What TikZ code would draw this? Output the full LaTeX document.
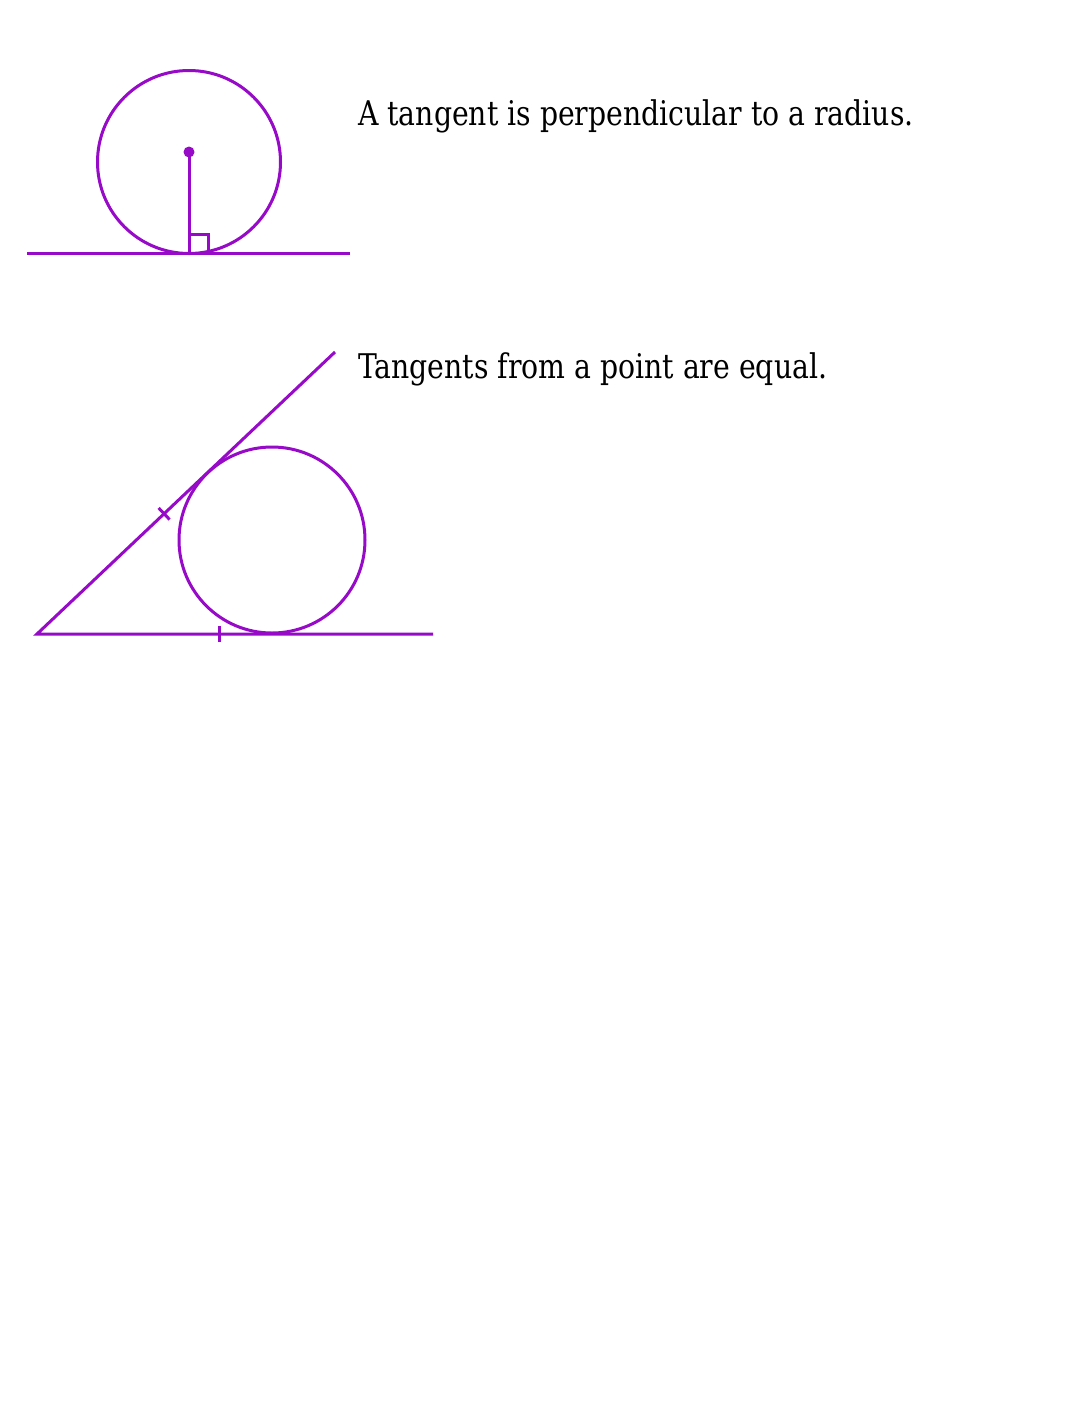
\documentclass[tikz,border=0pt]{standalone}
\usepackage{fontspec}
\setmainfont{DejaVu Serif Condensed}
\usepackage{tikz}
\usetikzlibrary{calc,positioning}
\definecolor{tanpurple}{RGB}{150,10,200}
\tikzset{
    geo/.style={draw=tanpurple, line width=3pt},
    fact/.style={anchor=base west, align=left, font=\fontsize{34}{40}\selectfont, inner sep=0pt, xscale=0.925},
}

\begin{document}
\begin{tikzpicture}[x=1pt,y=1pt,yscale=-1,xscale=1]
\useasboundingbox (0,0) rectangle (1080,1417);
%Points
\coordinate (O1) at (189,162);
\coordinate (C1) at (189,152);
\coordinate (P1) at (189,253);
\coordinate (L1) at (27,253);
\coordinate (R1) at (350,253);
\coordinate (A) at (37,634);
\coordinate (B) at (335,352);
\coordinate (R2) at (433,634);
\coordinate (O2) at (272,540);
%Circle
\draw [geo] (O1) circle (91.5);
%Straight Lines
\draw [geo] (L1) -- (R1);
\draw [geo] (C1) -- (P1);
\draw [geo] (P1) ++(0,-19) -- ++(19,0) -- ++(0,19);
\fill [tanpurple] (C1) circle (5.5);
%Circle
\draw [geo] (O2) circle (93);
%Straight Lines
\draw [geo] (B) -- (A) -- (R2);
\coordinate (T1) at ($(A)!0.4265!(B)$);
\coordinate (T2) at ($(A)!0.4596!(R2)$);
\draw [geo] ($(T1)!8pt!90:(B)$) -- ($(T1)!8pt!-90:(B)$);
\draw [geo] ($(T2)!8pt!90:(R2)$) -- ($(T2)!8pt!-90:(R2)$);
\draw (358,125) node [fact] (rad) {A tangent is perpendicular to a radius.};
\draw (358,378) node [fact] (eq) {Tangents from a point are equal.};
\end{tikzpicture}
\end{document}
